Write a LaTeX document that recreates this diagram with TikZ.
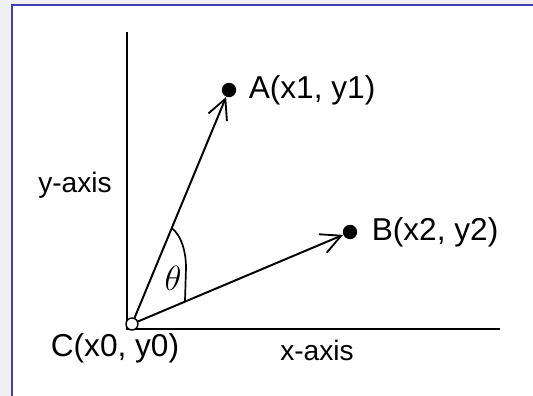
\documentclass[tikz,border=0pt]{standalone}
\usepackage{fontspec}
\setmainfont{Liberation Sans}
\usetikzlibrary{arrows.meta,positioning,calc}
\definecolor{frameblue}{RGB}{64,64,176}

\begin{document}
\begin{tikzpicture}[every node/.style={font=\fontsize{22.5}{26}\selectfont},
	axlbl/.style={font=\fontsize{20}{24}\selectfont},
	dot/.style={circle, fill=black, inner sep=0pt, minimum size=0.36cm},
	vec/.style={line width=1.4pt, -{Straight Barb[length=0.5cm, width=0.5cm, line width=1.3pt]}}]
	\useasboundingbox (0,0) rectangle (13.325,9.9);
	\fill[gray!12] (0,0) rectangle (13.325,9.9);
	\fill[white] (0.3,0) rectangle (13.325,9.775);
	\draw[frameblue, line width=1.5pt] (0.3,0) -- (0.3,9.775) -- (13.325,9.775);
	\coordinate (ytop) at (3.175,9.1);
	\coordinate (orig) at (3.175,1.675);
	\coordinate (xend) at (12.5,1.675);
	\draw[line width=0.9pt] (ytop) -- (orig) -- (xend);
	\node[dot] (A) at (5.725,7.65) {};
	\node[dot] (B) at (8.75,4.1) {};
	\node[circle, draw, fill=white, inner sep=0pt, minimum size=0.3cm, line width=1pt] (C) at (3.3,1.8) {};
	\draw[vec] (C) -- (A);
	\draw[vec] (C) -- (B);
	\coordinate (p) at ($(C)!0.41!(A)$);
	\coordinate (q) at ($(C)!0.243!(B)$);
	\draw[line width=1.2pt] (p) .. controls +(0.25,-0.2) and +(0,0.4) .. (4.65,3.2) -- (q);
	\node[font=\fontsize{27}{30}\selectfont] (th) at (4.33,2.95) {$\theta$};
	\node[right=0.3cm of A, inner sep=0pt] (Alab) {A(x1, y1)};
	\node[right=0.35cm of B, inner sep=0pt] (Blab) {B(x2, y2)};
	\node (Clab) at (2.875,1.2) {C(x0, y0)};
	\node[axlbl] (xlab) at (7.925,1.15) {x-axis};
	\node[axlbl] (ylab) at (1.875,5.275) {y-axis};
\end{tikzpicture}
\end{document}
